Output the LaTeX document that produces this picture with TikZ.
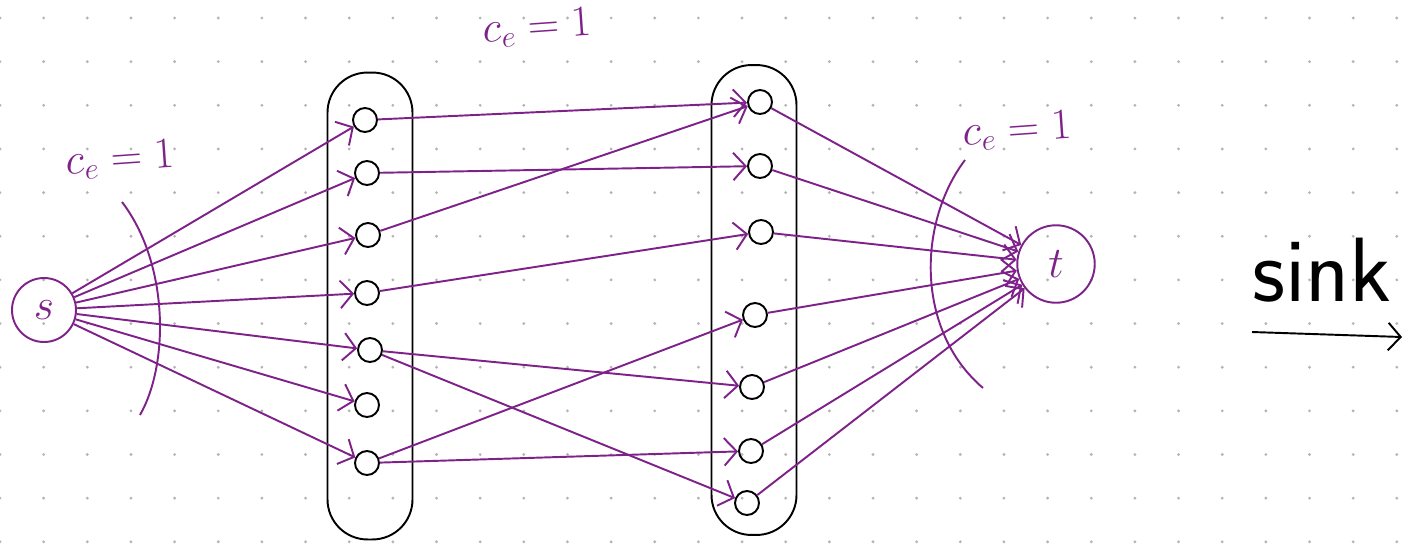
\documentclass[tikz,border=0pt]{standalone}
\usepackage{amsmath}
\usetikzlibrary{arrows.meta}
\definecolor{inkpurple}{RGB}{126,34,138}
\definecolor{dotgray}{RGB}{180,180,180}

\begin{document}
\begin{tikzpicture}[x=0.02cm,y=-0.02cm,line width=1.1pt,
	vertex/.style={draw=black,circle,inner sep=0pt,minimum size=0.48cm},
	term/.style={draw=inkpurple,circle,inner sep=0pt,text=inkpurple,font=\fontsize{28}{28}\selectfont},
	layer/.style={draw=black,rounded corners=0.8cm,minimum width=1.7cm},
	flow/.style={draw=inkpurple,-{Straight Barb[length=2.5mm,width=5.5mm]}},
	capacity/.style={text=inkpurple,font=\fontsize{25}{25}\selectfont}]

\useasboundingbox (0,0) rectangle (1405,545);

% dotted paper
\foreach \i in {0,...,32}{
	\foreach \j in {0,...,12}{
		\fill[dotgray] ({\i*43.65},{18+\j*43.65}) circle[radius=0.9pt];
	}
}

% the two middle layers
\node[layer,minimum height=9.34cm] (A) at (370,306) {};
\node[layer,minimum height=9.4cm] (B) at (754,300) {};

\foreach \n/\x/\y in {1/365/120,2/367/173,3/368/235,4/367/293,5/370/350,6/367/405,7/367/463}{
	\node[vertex] (a\n) at (\x,\y) {};
}
\foreach \n/\x/\y in {1/760/102,2/760/166,3/761/232,4/755/315,5/752/387,6/751/451,7/747/503}{
	\node[vertex] (b\n) at (\x,\y) {};
}

\node[term,minimum size=1.28cm] (s) at (44,310) {$s$};
\node[term,minimum size=1.55cm] (t) at (1056,264) {$t$};

% edges
\foreach \n in {1,...,7}{
	\draw[flow] (s) -- (a\n);
}
\foreach \u/\v in {1/1,2/2,3/1,4/3,5/5,5/7,7/4,7/6}{
	\draw[flow] (a\u) -- (b\v);
}
\foreach \n in {1,...,7}{
	\draw[flow] (b\n) -- (t);
}

% cuts
\draw[inkpurple] (122,202) .. controls (168,262) and (170,362) .. (140,415);
\draw[inkpurple] (965,160) .. controls (918,222) and (915,330) .. (983,388);

\node[capacity,rotate=4] (capS) at (120,160) {$c_e=1$};
\node[capacity,rotate=4] (capM) at (537,28) {$c_e=1$};
\node[capacity,rotate=4] (capT) at (1017,131) {$c_e=1$};

% sink
\node[font=\sffamily\fontsize{52}{52}\selectfont] (sinklabel) at (1322,270) {sink};
\coordinate (sinkL) at (1252,332);
\coordinate (sinkR) at (1402,337);
\draw[-{Straight Barb[length=2.5mm,width=5.5mm]}] (sinkL) -- (sinkR);

\end{tikzpicture}
\end{document}
